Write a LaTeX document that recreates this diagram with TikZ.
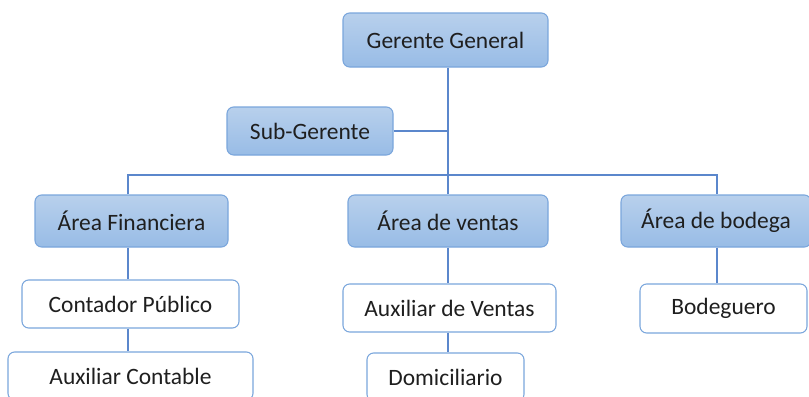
\documentclass[tikz,border=0pt]{standalone}
\usepackage{fontspec}
\setmainfont{Carlito}
\definecolor{linec}{HTML}{5B87CC}
\definecolor{bordc}{HTML}{7AA6DC}
\definecolor{topc}{HTML}{B8D0EC}
\definecolor{botc}{HTML}{98BCE6}
\definecolor{txtc}{HTML}{1F1F1F}
\tikzset{
  px/.style={x=0.75pt,y=-0.75pt},
  boxbase/.style={draw=bordc, line width=0.8pt, rounded corners=5pt, inner sep=0pt, text=txtc, font=\fontsize{17.6}{20}\selectfont},
  bluebox/.style={boxbase, top color=topc, bottom color=botc},
  whitebox/.style={boxbase, fill=white},
  conn/.style={draw=linec, line width=0.9pt},
}
\begin{document}
\begin{tikzpicture}[px]
\useasboundingbox[fill=white] (0,0) rectangle (809,396);
\node[bluebox, minimum width=153.75pt, minimum height=40.5pt] (gg) at (445.5,40) {Gerente General};
\node[bluebox, minimum width=124.5pt, minimum height=36pt] (sg) at (310,131) {Sub-Gerente};
\node[bluebox, minimum width=144.75pt, minimum height=39pt] (af) at (131.5,221) {Área Financiera};
\node[bluebox, minimum width=150pt, minimum height=39pt] (av) at (448,221) {Área de ventas};
\node[bluebox, minimum width=142.5pt, minimum height=39pt] (ab) at (716,221) {Área de bodega};
\node[whitebox, minimum width=162.75pt, minimum height=36pt] (cp) at (130.5,304) {Contador Público};
\node[whitebox, minimum width=183.75pt, minimum height=36pt] (ac) at (130.5,376) {Auxiliar Contable};
\node[whitebox, minimum width=159.75pt, minimum height=36pt] (axv) at (449.5,308) {Auxiliar de Ventas};
\node[whitebox, minimum width=117.75pt, minimum height=36pt] (dom) at (445.5,377) {Domiciliario};
\node[whitebox, minimum width=125.25pt, minimum height=36.75pt] (bod) at (723.5,308.5) {Bodeguero};
\coordinate (spine) at (448,175);
\coordinate (lft) at (128,175);
\coordinate (rgt) at (717,175);
\draw[conn] (gg.south -| spine) -- (spine);
\draw[conn] (sg.east) -- (sg.east -| spine);
\draw[conn] (af.north -| lft) -- (lft) -- (rgt) -- (ab.north -| rgt);
\draw[conn] (spine) -- (av.north -| spine);
\draw[conn] (af.south -| lft) -- (cp.north -| lft);
\draw[conn] (cp.south -| lft) -- (ac.north -| lft);
\draw[conn] (av.south -| spine) -- (axv.north -| spine);
\draw[conn] (axv.south -| spine) -- (dom.north -| spine);
\draw[conn] (ab.south -| rgt) -- (bod.north -| rgt);
\end{tikzpicture}
\end{document}
